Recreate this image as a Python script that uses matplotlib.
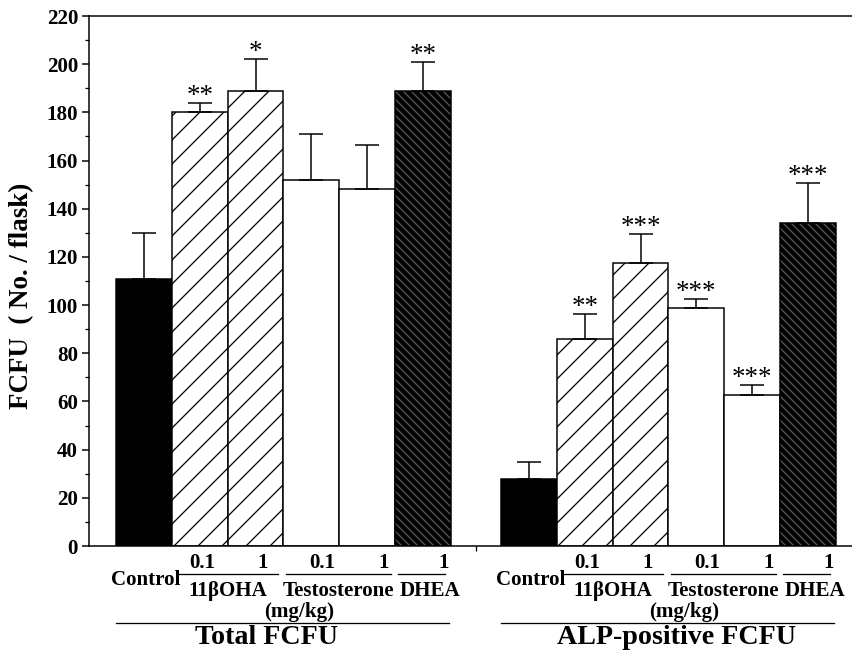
import matplotlib
matplotlib.use("Agg")
import matplotlib.pyplot as plt
import matplotlib.transforms as mtransforms
from matplotlib.ticker import MultipleLocator
import numpy as np

# ---------------- data ----------------
categories = ["Control", "11βOHA 0.1", "11βOHA 1", "Testosterone 0.1", "Testosterone 1", "DHEA 1"]
total_mean = [111, 180, 189, 152, 148, 189]
total_err = [19, 4, 13, 19, 18.5, 12]
total_sig = ["", "**", "*", "", "", "**"]
alp_mean = [28, 86, 117.5, 99, 62.5, 134]
alp_err = [7, 10.5, 12, 3.5, 4.5, 16.5]
alp_sig = ["", "**", "***", "***", "***", "***"]
dose_labels = ["", "0.1", "1", "0.1", "1", "1"]
group_titles = ["Total FCFU", "ALP-positive FCFU"]
yticks = list(range(0, 221, 20))

plt.rcParams["font.family"] = ["Liberation Serif", "DejaVu Serif"]
plt.rcParams["hatch.linewidth"] = 1.3

W, H = 852, 652
fig = plt.figure(figsize=(W / 72, H / 72), dpi=72)
ax = fig.add_axes([89 / W, 1 - 546 / H, (W - 89) / W, 530 / H])

def fy(py):
    return 1 - py / H

blend = mtransforms.blended_transform_factory(ax.transData, fig.transFigure)

group_offsets = [0.0, 6.9]
styles = [
    dict(face="black", hatch=None),
    dict(face="white", hatch="/"),
    dict(face="white", hatch="/"),
    dict(face="white", hatch=None),
    dict(face="white", hatch=None),
    dict(face="black", hatch="\\\\\\"),
]

for g, (means, errs, sigs) in enumerate([(total_mean, total_err, total_sig),
                                         (alp_mean, alp_err, alp_sig)]):
    pos = np.arange(len(means)) + group_offsets[g]
    for i, (x, m) in enumerate(zip(pos, means)):
        st = styles[i]
        if st["face"] == "black" and st["hatch"]:
            ax.bar(x, m, width=1.0, color="black", edgecolor="#595959",
                   hatch=st["hatch"], linewidth=0, zorder=2)
            ax.bar(x, m, width=1.0, fill=False, edgecolor="black", linewidth=1.5, zorder=3)
        else:
            ax.bar(x, m, width=1.0, facecolor=st["face"], edgecolor="black",
                   hatch=st["hatch"], linewidth=1.5, zorder=2)
    ax.errorbar(pos, means, yerr=[np.zeros(len(errs)), errs], fmt="none",
                ecolor="black", elinewidth=1.5, capsize=12, capthick=1.5, zorder=4)
    for x, m, e, s in zip(pos, means, errs, sigs):
        if s:
            ax.annotate(s, (x, m + e), xytext=(0, 0), textcoords="offset points",
                        ha="center", va="baseline", fontsize=27, zorder=5)

    # ---- category annotations below axis ----
    num_shift = [0, 0.05, 0.12, 0.2, 0.3, 0.38]
    txt_kw = dict(transform=blend, fontsize=21, fontweight="bold", ha="center", va="center")
    for i in range(1, 6):
        fig.text(pos[i] + num_shift[i], fy(563), dose_labels[i], **txt_kw)
    fig.text(pos[0] + 0.04, fy(580), "Control", **txt_kw)
    fig.text((pos[1] + pos[2]) / 2, fy(591), "11βOHA", **txt_kw)
    fig.text((pos[3] + pos[4]) / 2 - 0.02, fy(591), "Testosterone", **txt_kw)
    fig.text(pos[5] + 0.12, fy(591), "DHEA", **txt_kw)
    fig.text(pos[3] - 0.22, fy(612), "(mg/kg)", **txt_kw)
    title_x = [pos[0] + 2.2, pos[0] + 2.65][g]
    fig.text(title_x, fy(638), group_titles[g], transform=blend, fontsize=28,
             fontweight="bold", ha="center", va="center")

    line_kw = dict(transform=blend, color="black", linewidth=1.3, clip_on=False)
    ax.plot([pos[1] - 0.38, pos[2] + 0.4], [fy(574)] * 2, **line_kw)
    ax.plot([pos[3] - 0.46, pos[4] + 0.42], [fy(574)] * 2, **line_kw)
    ax.plot([pos[5] - 0.45, pos[5] + 0.4], [fy(574)] * 2, **line_kw)
    ax.plot([pos[0] - 0.5, pos[5] + 0.46], [fy(623)] * 2, **line_kw)

# ---------------- axes styling ----------------
ax.set_xlim(-0.984, 12.69)
ax.set_ylim(0, 220)
ax.set_yticks(yticks)
ax.yaxis.set_minor_locator(MultipleLocator(10))
ax.set_xticks([5.95])
ax.set_xticklabels([""])
ax.tick_params(axis="y", which="major", direction="out", length=7, width=1.5,
               labelsize=21, pad=4)
ax.tick_params(axis="y", which="minor", direction="out", length=4, width=1.3)
ax.tick_params(axis="x", direction="out", length=5, width=1.3)
for lab in ax.get_yticklabels():
    lab.set_fontweight("bold")
for side in ["left", "top", "bottom"]:
    ax.spines[side].set_linewidth(1.5)
ax.spines["right"].set_visible(False)

fig.text(22 / W, fy(296), "FCFU  ( No. / flask)", rotation=90, fontsize=27,
         fontweight="bold", ha="center", va="center")

fig.savefig("out.png", dpi=72)
